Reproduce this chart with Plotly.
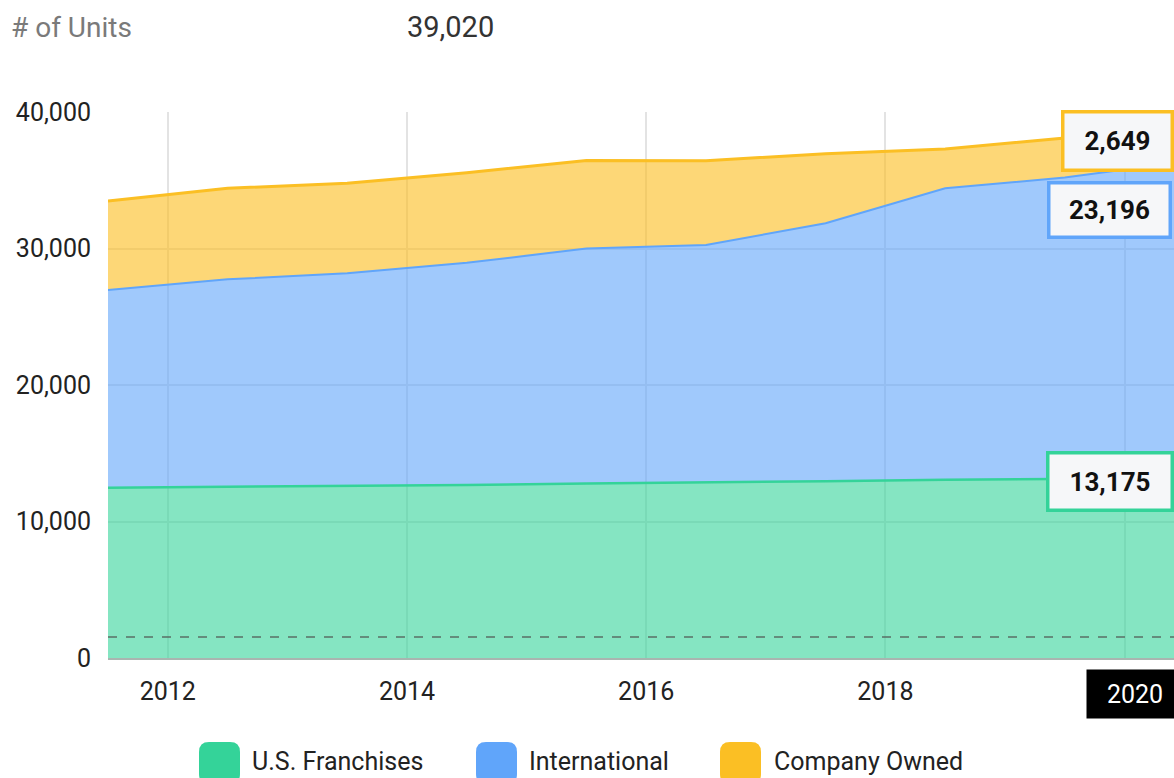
import plotly.graph_objects as go

# ---------------- data ----------------
years = [2011.5, 2012.5, 2013.5, 2014.5, 2015.5, 2016.5, 2017.5, 2018.5, 2019.5, 2020.5]
us_franchises = [12480, 12540, 12600, 12680, 12780, 12850, 12950, 13050, 13120, 13175]
international = [14480, 15200, 15580, 16270, 17220, 17410, 18900, 21360, 22080, 23196]
company_owned = [6520, 6670, 6600, 6600, 6450, 6170, 5100, 2880, 2900, 2649]
series_names = ["U.S. Franchises", "International", "Company Owned"]
reference_value = 1540
hover_year = "2020"
x_ticks = [2012, 2014, 2016, 2018, 2020]
x_tick_text = ["2012", "2014", "2016", "2018", ""]
y_ticks = [0, 10000, 20000, 30000, 40000]

# ---------------- style ----------------
W, H = 1174, 778
L, T, R = 108, 112, 0
B = H - 658
PW, PH = W - L - R, H - T - B
FONT = "Roboto"
line_cols = ["#34d399", "#60a5fa", "#fbbf24"]
fill_cols = ["rgba(52,211,153,0.6)", "rgba(96,165,250,0.6)", "rgba(251,191,36,0.62)"]
line_w = [2.5, 2, 3]


def px(x, y):
    """screen pixel -> paper coordinates"""
    return (x - L) / PW, (H - B - y) / PH


fig = go.Figure()
for name, vals, lc, fc, lw in zip(series_names, [us_franchises, international, company_owned],
                                  line_cols, fill_cols, line_w):
    fig.add_trace(go.Scatter(
        x=years, y=vals, name=name, mode="lines", stackgroup="one",
        line=dict(color=lc, width=lw), fillcolor=fc, hoverinfo="skip"))

shapes = []
shapes.append(dict(type="line", xref="paper", x0=0, x1=1, yref="y", y0=reference_value, y1=reference_value,
                   line=dict(color="rgba(90,110,100,0.75)", width=2, dash="dash"), layer="above"))


def rounded_path(x0, y0, x1, y1, r):
    def p(x, y):
        a, b = px(x, y)
        return f"{a:.5f},{b:.5f}"
    return (f"M {p(x0 + r, y0)} L {p(x1 - r, y0)} Q {p(x1, y0)} {p(x1, y0 + r)} "
            f"L {p(x1, y1 - r)} Q {p(x1, y1)} {p(x1 - r, y1)} L {p(x0 + r, y1)} "
            f"Q {p(x0, y1)} {p(x0, y1 - r)} L {p(x0, y0 + r)} Q {p(x0, y0)} {p(x0 + r, y0)} Z")


legend_box_x = [199, 476, 720]
legend_text_x = [250, 527, 772]
annotations = []
for bx, tx, name, col in zip(legend_box_x, legend_text_x, series_names, line_cols):
    shapes.append(dict(type="path", xref="paper", yref="paper", path=rounded_path(bx, 742, bx + 41, 784, 10),
                       fillcolor=col, line=dict(width=0), layer="above"))
    ax, ay = px(tx, 761)
    annotations.append(dict(xref="paper", yref="paper", x=ax, y=ay, xanchor="left", yanchor="middle",
                            text=name, showarrow=False, font=dict(family=FONT, size=25, color="#222")))

# header
hx, hy = px(9, 27)
annotations.append(dict(xref="paper", yref="paper", x=hx, y=hy, xanchor="left", yanchor="middle",
                        text="# of Units", showarrow=False, font=dict(family=FONT, size=28, color="#7a7a7a")))
total = us_franchises[-1] + international[-1] + company_owned[-1]
hx, hy = px(405, 27)
annotations.append(dict(xref="paper", yref="paper", x=hx, y=hy, xanchor="left", yanchor="middle",
                        text=f"{total:,}", showarrow=False, font=dict(family=FONT, size=29, color="#333")))

# hover value labels
boxes = [
    (company_owned[-1], line_cols[2], 1117, 140.5, 110, 59),
    (international[-1], line_cols[1], 1109, 209.5, 122, 55),
    (us_franchises[-1], line_cols[0], 1109.5, 481, 125, 58),
]
for val, col, cx, cy, bw, bh in boxes:
    ax, ay = px(cx, cy)
    annotations.append(dict(xref="paper", yref="paper", x=ax, y=ay, xanchor="center", yanchor="middle",
                            text=f"<b>{val:,}</b>", showarrow=False, width=bw - 4, height=bh - 4,
                            bgcolor="#f6f7f9", bordercolor=col, borderwidth=3.5, borderpad=0,
                            font=dict(family=FONT, size=26, color="#111")))
ax, ay = px(1135, 694)
annotations.append(dict(xref="paper", yref="paper", x=ax, y=ay, xanchor="center", yanchor="middle",
                        text=hover_year, showarrow=False, width=96, height=48, bgcolor="#000",
                        borderpad=0, font=dict(family=FONT, size=25, color="#fff")))

fig.update_layout(
    width=W, height=H, margin=dict(l=L, r=R, t=T, b=B),
    paper_bgcolor="white", plot_bgcolor="white", showlegend=False,
    font=dict(family=FONT, size=25, color="#222"),
    shapes=shapes, annotations=annotations,
    xaxis=dict(range=[2011.5, 2011.5 + PW / 119.6], tickvals=x_ticks, ticktext=x_tick_text,
               showgrid=True, gridcolor="#e3e3e3", gridwidth=1.5, zeroline=False,
               showline=True, linecolor="#a9b5b0", linewidth=1.5,
               ticks="outside", ticklen=10, tickcolor="rgba(0,0,0,0)",
               tickfont=dict(family=FONT, size=25, color="#222")),
    yaxis=dict(range=[0, 40000], tickvals=y_ticks, tickformat=",d",
               showgrid=True, gridcolor="#e3e3e3", gridwidth=1.5, zeroline=False,
               ticks="outside", ticklen=11, tickcolor="rgba(0,0,0,0)",
               tickfont=dict(family=FONT, size=25, color="#222")),
)

fig.write_html("out.html", config={"displayModeBar": False},
               post_script="document.body.style.margin='0';document.body.style.overflow='hidden';")
